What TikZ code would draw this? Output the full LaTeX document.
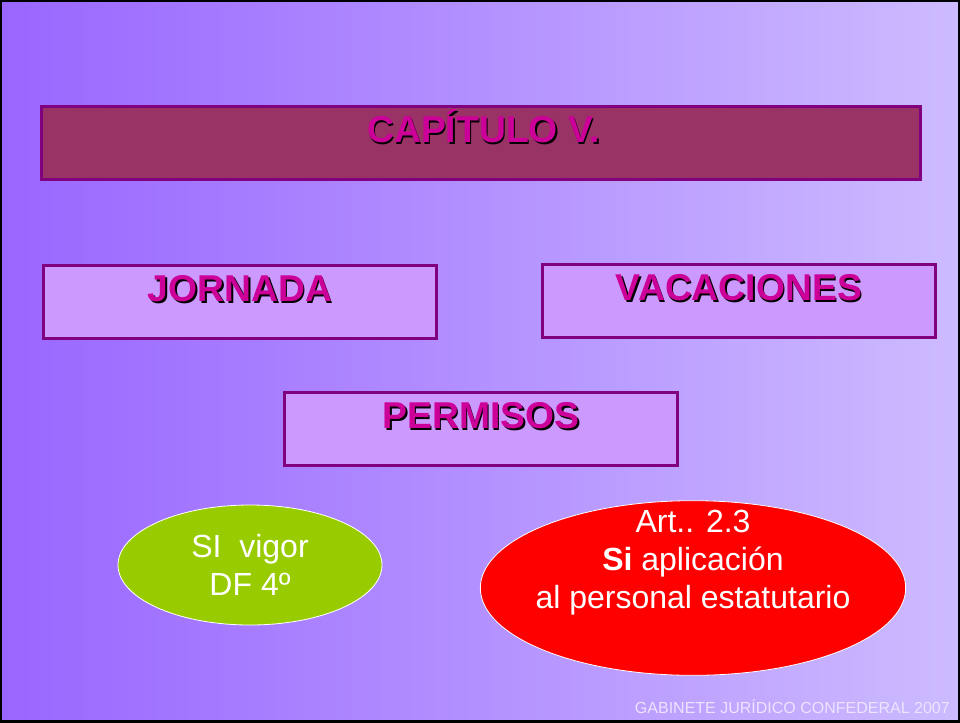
\documentclass[tikz,border=0pt]{standalone}
\usepackage{fontspec}
\setmainfont{Liberation Sans}
\usepackage{tikz}
\usetikzlibrary{shapes.geometric,positioning}

\definecolor{fondoizq}{HTML}{9966FF}
\definecolor{fondoder}{HTML}{CDBBFF}
\definecolor{granate}{HTML}{993366}
\definecolor{morado}{HTML}{800080}
\definecolor{lila}{HTML}{CC99FF}
\definecolor{fucsia}{HTML}{CC0099}
\definecolor{verde}{HTML}{99CC00}
\definecolor{pie}{HTML}{EDE4FF}

\newcommand{\sombra}[1]{\rlap{\kern1.2pt\raisebox{-1.2pt}{\color{black}#1}}#1}

\begin{document}
\begin{tikzpicture}[x=0.75pt,y=-0.75pt]
  \tikzstyle{bloque}=[draw=morado,line width=2.25pt,fill=lila,minimum width=295pt,minimum height=55pt,inner sep=0pt]
  \tikzstyle{rotulo}=[anchor=base,inner sep=0pt,text=fucsia,font=\fontsize{28}{34}\selectfont\bfseries,yshift=-28.5pt]
  \tikzstyle{globo}=[ellipse,draw=white,line width=0.6pt,inner sep=0pt,text=white,align=center,font=\fontsize{24}{28.5}\selectfont]

  % fondo
  \useasboundingbox (0,0) rectangle (960,722);
  \shade[left color=fondoizq,right color=fondoder] (0,0) rectangle (960,722);
  \draw[line width=3pt] (0,0) rectangle (960,722);

  % cajas
  \node[bloque,fill=granate,minimum width=659pt] (capitulo) at (481,143) {};
  \node[bloque] (jornada) at (240,302) {};
  \node[bloque] (vacaciones) at (739,301) {};
  \node[bloque] (permisos) at (481,429) {};

  \node[rotulo,xshift=2pt] (tcapitulo) at (capitulo.north) {\sombra{CAPÍTULO V.}};
  \node[rotulo] (tjornada) at (jornada.north) {\sombra{JORNADA}};
  \node[rotulo] (tvacaciones) at (vacaciones.north) {\sombra{VACACIONES}};
  \node[rotulo] (tpermisos) at (permisos.north) {\sombra{PERMISOS}};

  % elipses
  \node[globo,fill=verde,minimum width=198pt,minimum height=90pt] (vigor) at (250,565) {SI\ \ vigor\\DF 4º};
  \node[globo,fill=red,minimum width=319pt,minimum height=131pt] (estatuto) at (693,588) {};
  \node[globo,draw=none] (testatuto) at (693,563) {Art.. 2.3\\\textbf{Si} aplicación\\al personal estatutario};

  \node[anchor=base east,inner sep=0pt,text=pie,font=\fontsize{12}{14}\selectfont] (gabinete) at (950,713) {GABINETE JURÍDICO CONFEDERAL 2007};
\end{tikzpicture}
\end{document}
